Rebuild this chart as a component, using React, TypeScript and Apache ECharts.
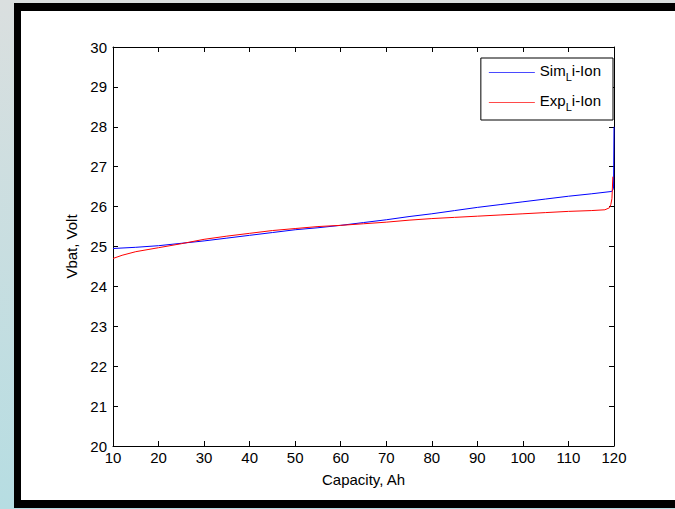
import React, { useEffect, useRef } from "react";
import * as echarts from "echarts";

const xTicks = [10, 20, 30, 40, 50, 60, 70, 80, 90, 100, 110, 120];
const simCapacity = [10, 15, 20, 25, 30, 35, 40, 45, 50, 55, 60, 65, 70, 75, 80, 85, 90, 95, 100, 105, 110, 115, 119.5, 119.9, 120];
const simVoltage = [24.95, 24.98, 25.02, 25.08, 25.14, 25.21, 25.28, 25.35, 25.42, 25.47, 25.53, 25.6, 25.67, 25.75, 25.82, 25.9, 25.98, 26.05, 26.12, 26.19, 26.26, 26.32, 26.38, 26.45, 28.0];
const expCapacity = [10, 12, 15, 20, 25, 30, 35, 40, 45, 50, 55, 60, 65, 70, 75, 80, 85, 90, 95, 100, 105, 110, 115, 118, 119, 119.3, 119.55, 119.75];
const expVoltage = [24.7, 24.78, 24.87, 24.97, 25.07, 25.18, 25.26, 25.33, 25.4, 25.45, 25.5, 25.53, 25.57, 25.61, 25.66, 25.7, 25.73, 25.76, 25.79, 25.82, 25.85, 25.88, 25.9, 25.92, 25.97, 26.05, 26.2, 26.75];

const simName = "Sim_Li-Ion";
const expName = "Exp_Li-Ion";

export default function App() {
  const ref = useRef<HTMLDivElement>(null);
  useEffect(() => {
    if (!ref.current) return;
    const chart = echarts.init(ref.current, null, { renderer: "svg" });
    const font = "'Liberation Sans', Arial, Helvetica, sans-serif";
    const fs = 15;
    const pair = (xs: number[], ys: number[]) => xs.map((x, i) => [x, ys[i]]);
    const lineIcon = "path://M0,0 L46,0 L46,1 L0,1 Z";
    chart.setOption({
      animation: false,
      backgroundColor: new echarts.graphic.LinearGradient(0, 0, 0, 1, [
        { offset: 0, color: "#dadfdf" },
        { offset: 1, color: "#b6dde2" },
      ]),
      textStyle: { fontFamily: font },
      graphic: [
        { type: "rect", z: -10, shape: { x: 14, y: 3, width: 700, height: 505 }, style: { fill: "#000" }, silent: true },
        { type: "rect", z: -9, shape: { x: 21, y: 11, width: 700, height: 489 }, style: { fill: "#fff" }, silent: true },
      ],
      grid: { left: 113, right: 61, top: 47, bottom: 63, containLabel: false },
      legend: {
        orient: "vertical",
        right: 62,
        top: 58,
        backgroundColor: "#fff",
        borderColor: "#000",
        borderWidth: 1,
        borderRadius: 0,
        padding: [5, 12, 8, 8],
        itemWidth: 46,
        itemHeight: 1,
        itemGap: 11,
        data: [
          { name: simName, icon: lineIcon, itemStyle: { color: "#4a4aff" } },
          { name: expName, icon: lineIcon, itemStyle: { color: "#ff4a4a" } },
        ],
        formatter: (name: string) => {
          const base = name.split("_")[0];
          return `{n|${base}}{s|L}{n|i-Ion}`;
        },
        textStyle: {
          color: "#000",
          fontFamily: font,
          fontSize: fs,
          rich: {
            n: { fontSize: fs, fontFamily: font, color: "#000", lineHeight: 19, verticalAlign: "top" },
            s: { fontSize: 11, fontFamily: font, color: "#000", lineHeight: 19, verticalAlign: "bottom", padding: [8, 0, 0, 0] },
          },
        },
      },
      xAxis: [
        {
          type: "value",
          min: 10,
          max: 120,
          interval: 10,
          name: "Capacity, Ah",
          nameLocation: "middle",
          nameGap: 26,
          nameTextStyle: { color: "#000", fontSize: fs, fontFamily: font },
          axisLine: { show: true, lineStyle: { color: "#000", width: 1 } },
          axisTick: { inside: true, length: 5, lineStyle: { color: "#000" } },
          axisLabel: { color: "#000", fontSize: fs, margin: 4, fontFamily: font },
          splitLine: { show: false },
        },
        {
          type: "value",
          position: "top",
          min: 10,
          max: 120,
          interval: 10,
          axisLine: { show: true, onZero: false, lineStyle: { color: "#000", width: 1 } },
          axisTick: { inside: true, length: 5, lineStyle: { color: "#000" } },
          axisLabel: { show: false },
          splitLine: { show: false },
        },
      ],
      yAxis: [
        {
          type: "value",
          min: 20,
          max: 30,
          interval: 1,
          name: "Vbat, Volt",
          nameLocation: "middle",
          nameGap: 27,
          nameRotate: 90,
          nameTextStyle: { color: "#000", fontSize: fs, fontFamily: font },
          axisLine: { show: true, lineStyle: { color: "#000", width: 1 } },
          axisTick: { inside: true, length: 5, lineStyle: { color: "#000" } },
          axisLabel: { color: "#000", fontSize: fs, margin: 6, fontFamily: font },
          splitLine: { show: false },
        },
        {
          type: "value",
          position: "right",
          min: 20,
          max: 30,
          interval: 1,
          axisLine: { show: true, onZero: false, lineStyle: { color: "#000", width: 1 } },
          axisTick: { inside: true, length: 5, lineStyle: { color: "#000" } },
          axisLabel: { show: false },
          splitLine: { show: false },
        },
      ],
      series: [
        {
          name: simName,
          type: "line",
          data: pair(simCapacity, simVoltage),
          symbol: "none",
          z: 2,
          lineStyle: { color: "#0000ff", width: 1 },
          itemStyle: { color: "#0000ff" },
        },
        {
          name: expName,
          type: "line",
          data: pair(expCapacity, expVoltage),
          symbol: "none",
          z: 3,
          lineStyle: { color: "#ff0000", width: 1 },
          itemStyle: { color: "#ff0000" },
        },
      ],
    });
    return () => chart.dispose();
  }, []);
  return (
    <div
      ref={ref}
      style={{ position: "fixed", left: 0, top: 0, width: 675, height: 509 }}
    />
  );
}
